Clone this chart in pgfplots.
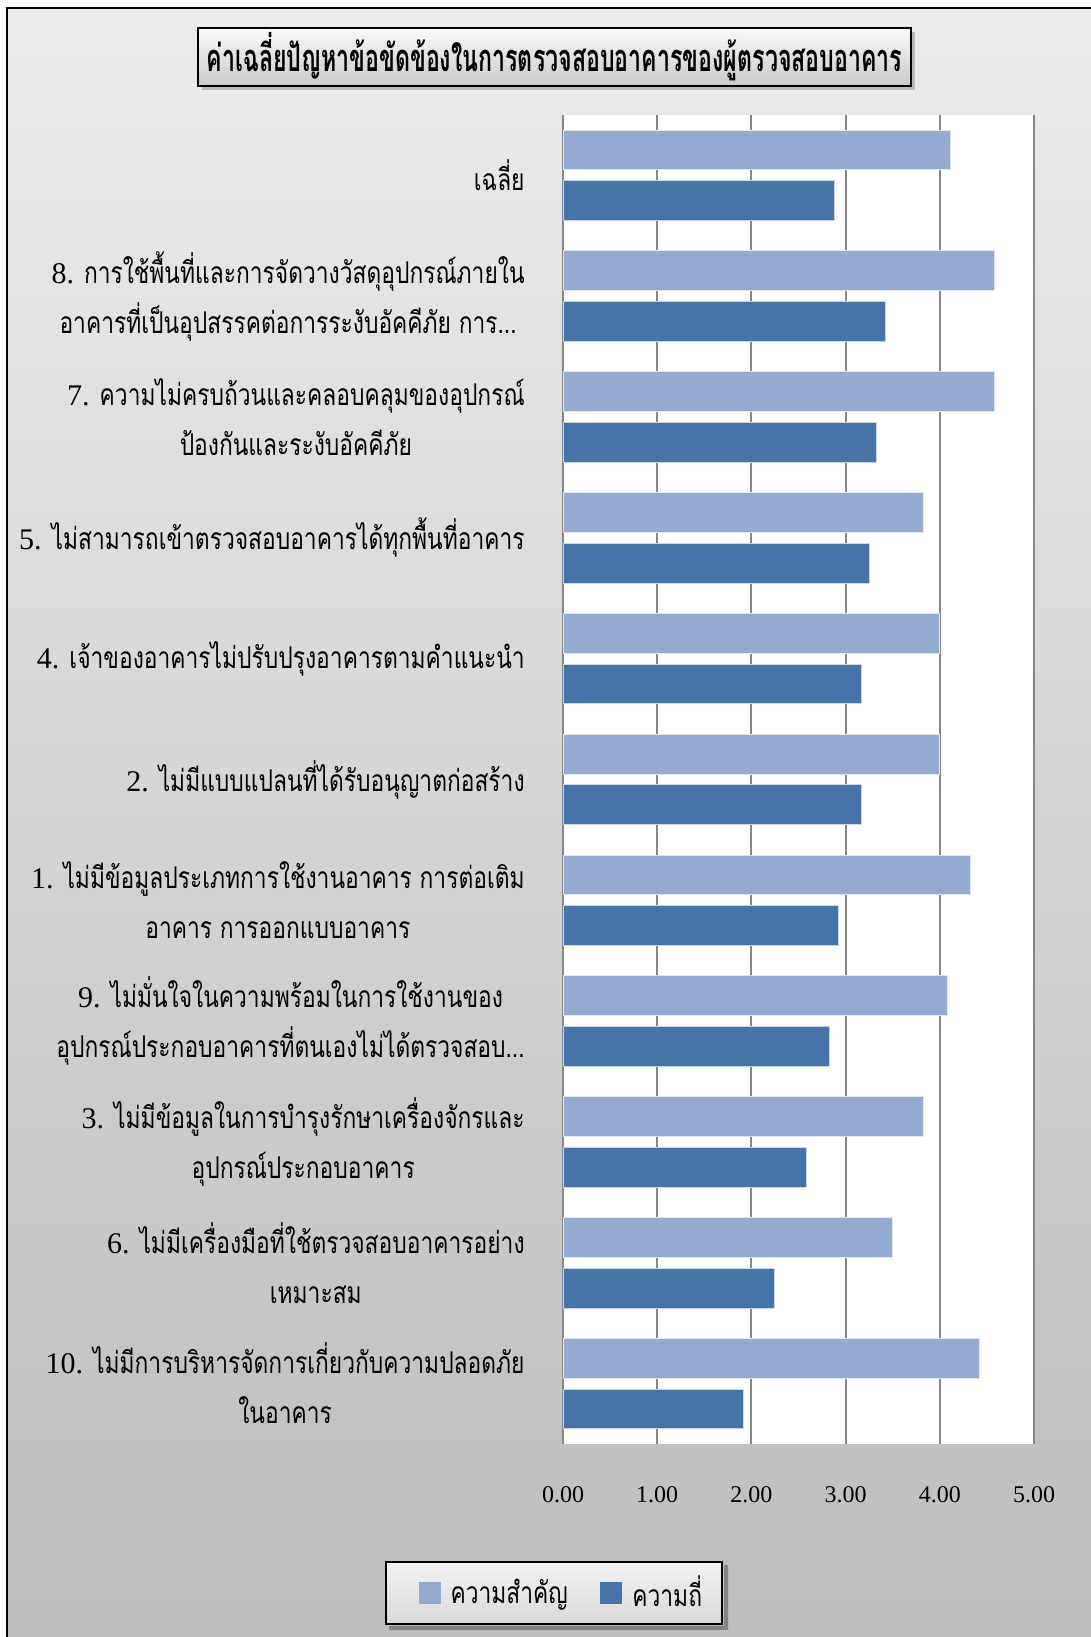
\documentclass[border=0pt]{standalone}
\usepackage{fontspec}
\setmainfont{Liberation Serif}
\newfontfamily\thaifont[Script=Thai,FakeStretch=0.76]{Loma}
\newfontfamily\titlefont[Script=Thai,FakeStretch=0.61]{Loma}
\usepackage{pgfplots}
\pgfplotsset{compat=1.18}
\usetikzlibrary{shadows}
\definecolor{lightbar}{RGB}{149,170,208}
\definecolor{darkbar}{RGB}{70,115,168}
\definecolor{gridc}{RGB}{134,134,134}
\definecolor{bgtop}{RGB}{236,236,236}
\definecolor{bgbot}{RGB}{188,188,188}
\newcommand{\T}[1]{{\thaifont #1}}
\begin{document}
\begin{tikzpicture}[x=0.5pt,y=0.5pt]
\useasboundingbox (0,0) rectangle (1091,1637);
\draw[line width=1pt, top color=bgtop, bottom color=bgbot] (7,1629) rectangle (1110,-20);
\node[draw=black, line width=1pt, top color=white!96!gray, bottom color=gray!42,
      minimum width=356.5pt, minimum height=29pt, inner sep=0pt,
      drop shadow={shadow xshift=2pt, shadow yshift=-2pt, opacity=0.45}]
  at (554.5,1580) {\titlefont\bfseries\fontsize{19}{22}\selectfont ค่าเฉลี่ยปัญหาข้อขัดข้องในการตรวจสอบอาคารของผู้ตรวจสอบอาคาร};
\coordinate (A) at (563,193);
\begin{axis}[
  at={(A)}, anchor=south west,
  width=235.5pt, height=664.5pt, scale only axis,
  xbar, bar width=0.33,
  xmin=0, xmax=5, ymin=-0.5, ymax=10.5,
  xtick={0,1,2,3,4,5},
  ytick={0,1,2,3,4,5,6,7,8,9,10},
  yticklabels={
    {10. \T{ไม่มีการบริหารจัดการเกี่ยวกับความปลอดภัย}\\\T{ในอาคาร}},
    {6. \T{ไม่มีเครื่องมือที่ใช้ตรวจสอบอาคารอย่าง}\\\T{เหมาะสม}},
    {3. \T{ไม่มีข้อมูลในการบำรุงรักษาเครื่องจักรและ}\\\T{อุปกรณ์ประกอบอาคาร}},
    {9. \T{ไม่มั่นใจในความพร้อมในการใช้งานของ}\\\T{อุปกรณ์ประกอบอาคารที่ตนเองไม่ได้ตรวจสอบ...}},
    {1. \T{ไม่มีข้อมูลประเภทการใช้งานอาคาร การต่อเติม}\\\T{อาคาร การออกแบบอาคาร}},
    {2. \T{ไม่มีแบบแปลนที่ได้รับอนุญาตก่อสร้าง}},
    {4. \T{เจ้าของอาคารไม่ปรับปรุงอาคารตามคำแนะนำ}},
    {5. \T{ไม่สามารถเข้าตรวจสอบอาคารได้ทุกพื้นที่อาคาร}},
    {7. \T{ความไม่ครบถ้วนและคลอบคลุมของอุปกรณ์}\\\T{ป้องกันและระงับอัคคีภัย}},
    {8. \T{การใช้พื้นที่และการจัดวางวัสดุอุปกรณ์ภายใน}\\\T{อาคารที่เป็นอุปสรรคต่อการระงับอัคคีภัย การ...}},
    {\T{เฉลี่ย}}},
  yticklabel style={anchor=east, align=center, inner sep=0pt, xshift=-19pt,
    font=\fontsize{15}{25}\selectfont},
  xticklabel style={anchor=center, yshift=-25.5pt, font=\fontsize{12}{14}\selectfont},
  xticklabel={\pgfmathprintnumber[fixed,fixed zerofill,precision=2]{\tick}},
  /pgf/number format/assume math mode=true,
  major tick length=0pt, tick style={draw=none},
  axis line style={draw=none},
  xmajorgrids, ymajorgrids=false,
  major grid style={line width=1pt, color=gridc},
  axis background/.style={fill=white},
  legend style={at={(-0.019,-0.112)}, anchor=center, legend columns=2, name=leg,
    draw=black, line width=1pt, top color=gray!10, bottom color=gray!30,
    inner xsep=8pt, inner ysep=5pt,
    font=\thaifont\fontsize{15}{18}\selectfont,
    /tikz/every odd column/.append style={column sep=3pt},
    /tikz/every even column/.append style={column sep=6pt}},
  legend image code/.code={\path (-8pt,0pt); \path[#1, draw=none] (0pt,-5.5pt) rectangle (11pt,5.5pt);},
]
\addplot[fill=lightbar, draw=white!70!lightbar, line width=0.5pt, bar shift=0.21]
  coordinates {(4.42,0) (3.50,1) (3.83,2) (4.08,3) (4.33,4) (4.00,5) (4.00,6) (3.83,7) (4.58,8) (4.58,9) (4.11,10)};
\addlegendentry{ความสำคัญ}
\addplot[fill=darkbar, draw=white!70!darkbar, line width=0.5pt, bar shift=-0.21]
  coordinates {(1.92,0) (2.25,1) (2.58,2) (2.83,3) (2.92,4) (3.17,5) (3.17,6) (3.25,7) (3.33,8) (3.42,9) (2.88,10)};
\addlegendentry{ความถี่}
\end{axis}
\fill[black, opacity=0.3]
  ([xshift=2pt,yshift=-0.5pt]leg.south west) -- ([xshift=2pt,yshift=-2.5pt]leg.south west)
  -- ([xshift=2.5pt,yshift=-2.5pt]leg.south east) -- ([xshift=2.5pt,yshift=-2pt]leg.north east)
  -- ([xshift=0.5pt,yshift=-2pt]leg.north east) -- ([xshift=0.5pt,yshift=-0.5pt]leg.south east) -- cycle;
\end{tikzpicture}
\end{document}
